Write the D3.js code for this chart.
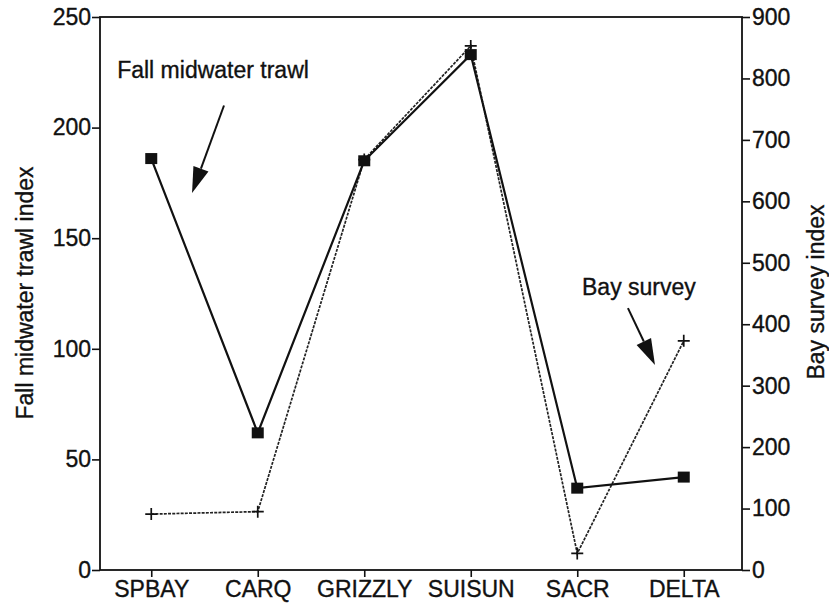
<!DOCTYPE html>
<meta charset="utf-8">
<html>
  <head>
    <style>
      body { margin: 0; background: #fff; }
      text { font-family: "Liberation Sans", Arial, sans-serif; fill: #111; stroke: #111; stroke-width: 0.35px; }
    </style>
  </head>
  <body>
    <div id="chart"></div>
  </body>
<script src="https://d3js.org/d3.v7.min.js"></script>
<script>
// sampling sites along the estuary
var sites = ["SPBAY", "CARQ", "GRIZZLY", "SUISUN", "SACR", "DELTA"]

// index values
var trawlIndex = [186, 62, 185, 233, 37, 42]      // left axis
var surveyIndex = [91, 95, 668, 853, 27, 373]     // right axis

var leftTicks = [0, 50, 100, 150, 200, 250]
var rightTicks = [0, 100, 200, 300, 400, 500, 600, 700, 800, 900]

var width = 829, height = 603
var box = {left: 100, right: 742, top: 17, bottom: 570}

var svg = d3.select("#chart").append("svg")
    .attr("width", width)
    .attr("height", height)

var x = d3.scalePoint()
    .domain(sites)
    .range([98, 737])
    .padding(0.5)
var yL = d3.scaleLinear().domain([0, 250]).range([box.bottom, box.top])
var yR = d3.scaleLinear().domain([0, 900]).range([box.bottom, box.top])

// helper for positions between sites (annotations)
function xAt(i) { return x(sites[0]) + i * x.step() }

// frame
svg.append("rect")
    .attr("x", box.left).attr("y", box.top)
    .attr("width", box.right - box.left).attr("height", box.bottom - box.top)
    .style("fill", "none").style("stroke", "#111").style("stroke-width", 1.8)

// axes
var fs = "23px"
var gl = svg.append("g")
    .attr("transform", "translate(" + box.left + ",0)")
    .call(d3.axisLeft(yL).tickValues(leftTicks).tickSize(8).tickSizeOuter(0).tickPadding(1))
var gr = svg.append("g")
    .attr("transform", "translate(" + box.right + ",0)")
    .call(d3.axisRight(yR).tickValues(rightTicks).tickSize(8).tickSizeOuter(0).tickPadding(2))
var gb = svg.append("g")
    .attr("transform", "translate(0," + box.bottom + ")")
    .call(d3.axisBottom(x).tickSize(7).tickSizeOuter(0).tickPadding(4))

;[gl, gr, gb].forEach(function(g) {
  g.select(".domain").remove()
  g.selectAll("line").style("stroke", "#111").style("stroke-width", 1.6)
  g.selectAll("text").style("font-size", fs).style("fill", "#111")
    .style("font-family", '"Liberation Sans", Arial, sans-serif')
})

// axis titles
svg.append("text")
    .attr("transform", "translate(33," + 293 + ") rotate(-90)")
    .attr("text-anchor", "middle")
    .style("font-size", fs)
    .text("Fall midwater trawl index")
svg.append("text")
    .attr("transform", "translate(824," + 292 + ") rotate(-90)")
    .attr("text-anchor", "middle")
    .style("font-size", fs)
    .text("Bay survey index")

// Bay survey line (dotted, right axis)
var surveyLine = d3.line()
    .x(function(d, i) { return x(sites[i]) })
    .y(function(d) { return yR(d) })
svg.append("path")
    .datum(surveyIndex)
    .attr("d", surveyLine)
    .style("fill", "none")
    .style("stroke", "#222")
    .style("stroke-width", 1.7)
    .style("stroke-dasharray", "3,1.2")

svg.selectAll(".plus")
  .data(surveyIndex)
  .enter()
  .append("path")
    .attr("class", "plus")
    .attr("transform", function(d, i) { return "translate(" + x(sites[i]) + "," + yR(d) + ")" })
    .attr("d", "M-6,0H6M0,-6V6")
    .style("stroke", "#111")
    .style("stroke-width", 1.7)

// Fall midwater trawl line (solid, left axis)
var trawlLine = d3.line()
    .x(function(d, i) { return x(sites[i]) })
    .y(function(d) { return yL(d) })
svg.append("path")
    .datum(trawlIndex)
    .attr("d", trawlLine)
    .style("fill", "none")
    .style("stroke", "#111")
    .style("stroke-width", 2.2)

svg.selectAll(".sq")
  .data(trawlIndex)
  .enter()
  .append("rect")
    .attr("class", "sq")
    .attr("x", function(d, i) { return x(sites[i]) - 6 })
    .attr("y", function(d) { return yL(d) - 5.5 })
    .attr("width", 12)
    .attr("height", 11)
    .style("fill", "#111")

// annotations with arrows
function arrow(x1, y1, x2, y2) {
  var a = Math.atan2(y2 - y1, x2 - x1), len = 26, w = 8
  var bx = x2 - len * Math.cos(a), by = y2 - len * Math.sin(a)
  svg.append("line")
      .attr("x1", x1).attr("y1", y1).attr("x2", bx).attr("y2", by)
      .style("stroke", "#111").style("stroke-width", 2)
  svg.append("path")
      .attr("d", "M" + x2 + "," + y2 +
        "L" + (bx + w * Math.sin(a)) + "," + (by - w * Math.cos(a)) +
        "L" + (bx - w * Math.sin(a)) + "," + (by + w * Math.cos(a)) + "Z")
      .style("fill", "#111")
}

svg.append("text")
    .attr("x", xAt(-0.32))
    .attr("y", yL(226))
    .attr("dy", "0.35em")
    .style("font-size", fs)
    .text("Fall midwater trawl")
arrow(xAt(0.683), yL(210), xAt(0.383), yL(170.4))

svg.append("text")
    .attr("x", xAt(4.045))
    .attr("y", yL(128))
    .attr("dy", "0.35em")
    .style("font-size", fs)
    .text("Bay survey")
arrow(xAt(4.476), yL(118.4), xAt(4.73), yL(92.7))
</script>
</html>
